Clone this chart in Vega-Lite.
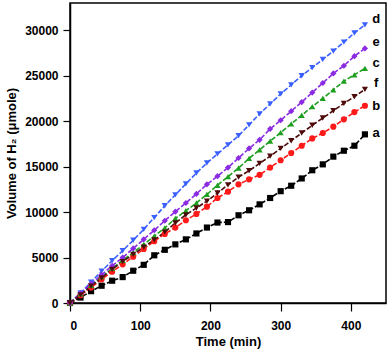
{
  "$schema": "https://vega.github.io/schema/vega-lite/v6.json",
  "autosize": "none",
  "width": 316,
  "height": 300,
  "padding": {"left": 70, "top": 3, "right": 6, "bottom": 52},
  "background": "white",
  "config": {
    "view": {"stroke": "black", "strokeWidth": 1.5},
    "axis": {
      "labelFont": "Liberation Sans", "labelFontWeight": "bold", "labelFontSize": 12, "labelColor": "black",
      "titleFont": "Liberation Sans", "titleFontWeight": "bold", "titleFontSize": 13, "titleColor": "black",
      "domainColor": "black", "domainWidth": 1.5, "tickColor": "black", "tickWidth": 1.2, "grid": false
    }
  },
  "datasets": {
    "series": [
      {"s":"a","t":0,"v":0},{"s":"a","t":15,"v":600},{"s":"a","t":30,"v":1300},{"s":"a","t":45,"v":1900},{"s":"a","t":60,"v":2450},{"s":"a","t":75,"v":2850},{"s":"a","t":90,"v":3550},{"s":"a","t":105,"v":4200},{"s":"a","t":120,"v":5250},{"s":"a","t":135,"v":5850},{"s":"a","t":150,"v":6450},{"s":"a","t":165,"v":7000},{"s":"a","t":180,"v":7650},{"s":"a","t":195,"v":8300},{"s":"a","t":210,"v":8850},{"s":"a","t":225,"v":8900},{"s":"a","t":240,"v":9650},{"s":"a","t":255,"v":10200},{"s":"a","t":270,"v":10850},{"s":"a","t":285,"v":11550},{"s":"a","t":300,"v":12300},{"s":"a","t":315,"v":12900},{"s":"a","t":330,"v":13700},{"s":"a","t":345,"v":14600},{"s":"a","t":360,"v":15250},{"s":"a","t":375,"v":16100},{"s":"a","t":390,"v":16750},{"s":"a","t":405,"v":17300},{"s":"a","t":420,"v":18550},
      {"s":"b","t":0,"v":0},{"s":"b","t":15,"v":850},{"s":"b","t":30,"v":1700},{"s":"b","t":45,"v":2600},{"s":"b","t":60,"v":3450},{"s":"b","t":75,"v":4250},{"s":"b","t":90,"v":5100},{"s":"b","t":105,"v":5950},{"s":"b","t":120,"v":6800},{"s":"b","t":135,"v":7600},{"s":"b","t":150,"v":8300},{"s":"b","t":165,"v":9100},{"s":"b","t":180,"v":9800},{"s":"b","t":195,"v":10600},{"s":"b","t":210,"v":11550},{"s":"b","t":225,"v":12250},{"s":"b","t":240,"v":13050},{"s":"b","t":255,"v":13600},{"s":"b","t":270,"v":14100},{"s":"b","t":285,"v":14900},{"s":"b","t":300,"v":15700},{"s":"b","t":315,"v":16500},{"s":"b","t":330,"v":17300},{"s":"b","t":345,"v":18100},{"s":"b","t":360,"v":18700},{"s":"b","t":375,"v":19400},{"s":"b","t":390,"v":20200},{"s":"b","t":405,"v":21000},{"s":"b","t":420,"v":21700},
      {"s":"c","t":0,"v":0},{"s":"c","t":15,"v":1000},{"s":"c","t":30,"v":1950},{"s":"c","t":45,"v":2900},{"s":"c","t":60,"v":3800},{"s":"c","t":75,"v":4700},{"s":"c","t":90,"v":5550},{"s":"c","t":105,"v":6450},{"s":"c","t":120,"v":7350},{"s":"c","t":135,"v":8250},{"s":"c","t":150,"v":9300},{"s":"c","t":165,"v":10150},{"s":"c","t":180,"v":11000},{"s":"c","t":195,"v":11950},{"s":"c","t":210,"v":12950},{"s":"c","t":225,"v":13900},{"s":"c","t":240,"v":14850},{"s":"c","t":255,"v":15900},{"s":"c","t":270,"v":16850},{"s":"c","t":285,"v":17800},{"s":"c","t":300,"v":18750},{"s":"c","t":315,"v":19700},{"s":"c","t":330,"v":20650},{"s":"c","t":345,"v":21600},{"s":"c","t":360,"v":22500},{"s":"c","t":375,"v":23450},{"s":"c","t":390,"v":24400},{"s":"c","t":405,"v":25100},{"s":"c","t":420,"v":25800},
      {"s":"d","t":0,"v":0},{"s":"d","t":15,"v":1100},{"s":"d","t":30,"v":2300},{"s":"d","t":45,"v":3500},{"s":"d","t":60,"v":4650},{"s":"d","t":75,"v":5750},{"s":"d","t":90,"v":6900},{"s":"d","t":105,"v":8100},{"s":"d","t":120,"v":9400},{"s":"d","t":135,"v":10700},{"s":"d","t":150,"v":11900},{"s":"d","t":165,"v":13100},{"s":"d","t":180,"v":14300},{"s":"d","t":195,"v":15400},{"s":"d","t":210,"v":16400},{"s":"d","t":225,"v":17400},{"s":"d","t":240,"v":18400},{"s":"d","t":255,"v":19600},{"s":"d","t":270,"v":20800},{"s":"d","t":285,"v":21900},{"s":"d","t":300,"v":23000},{"s":"d","t":315,"v":24000},{"s":"d","t":330,"v":25000},{"s":"d","t":345,"v":25900},{"s":"d","t":360,"v":26800},{"s":"d","t":375,"v":27700},{"s":"d","t":390,"v":28700},{"s":"d","t":405,"v":29700},{"s":"d","t":420,"v":30600},
      {"s":"e","t":0,"v":0},{"s":"e","t":15,"v":1100},{"s":"e","t":30,"v":2100},{"s":"e","t":45,"v":3100},{"s":"e","t":60,"v":4100},{"s":"e","t":75,"v":5000},{"s":"e","t":90,"v":6000},{"s":"e","t":105,"v":7000},{"s":"e","t":120,"v":8000},{"s":"e","t":135,"v":9050},{"s":"e","t":150,"v":10050},{"s":"e","t":165,"v":11000},{"s":"e","t":180,"v":12000},{"s":"e","t":195,"v":13050},{"s":"e","t":210,"v":13950},{"s":"e","t":225,"v":14900},{"s":"e","t":240,"v":15950},{"s":"e","t":255,"v":17000},{"s":"e","t":270,"v":17950},{"s":"e","t":285,"v":19150},{"s":"e","t":300,"v":20100},{"s":"e","t":315,"v":21100},{"s":"e","t":330,"v":22100},{"s":"e","t":345,"v":23150},{"s":"e","t":360,"v":24200},{"s":"e","t":375,"v":25250},{"s":"e","t":390,"v":26100},{"s":"e","t":405,"v":27150},{"s":"e","t":420,"v":28000},
      {"s":"f","t":0,"v":0},{"s":"f","t":15,"v":900},{"s":"f","t":30,"v":1850},{"s":"f","t":45,"v":2750},{"s":"f","t":60,"v":3700},{"s":"f","t":75,"v":4550},{"s":"f","t":90,"v":5350},{"s":"f","t":105,"v":6150},{"s":"f","t":120,"v":6950},{"s":"f","t":135,"v":7800},{"s":"f","t":150,"v":8800},{"s":"f","t":165,"v":9700},{"s":"f","t":180,"v":10450},{"s":"f","t":195,"v":11200},{"s":"f","t":210,"v":12100},{"s":"f","t":225,"v":13000},{"s":"f","t":240,"v":13850},{"s":"f","t":255,"v":14550},{"s":"f","t":270,"v":15350},{"s":"f","t":285,"v":16150},{"s":"f","t":300,"v":17000},{"s":"f","t":315,"v":17850},{"s":"f","t":330,"v":18700},{"s":"f","t":345,"v":19550},{"s":"f","t":360,"v":20350},{"s":"f","t":375,"v":21150},{"s":"f","t":390,"v":21950},{"s":"f","t":405,"v":22700},{"s":"f","t":420,"v":23500}
    ],
    "labels": [
      {"s":"d","t":436,"v":31200},{"s":"e","t":436,"v":28700},{"s":"c","t":436,"v":26450},{"s":"f","t":436,"v":24150},{"s":"b","t":436,"v":21700},{"s":"a","t":436,"v":18750}
    ]
  },
  "layer": [
    {
      "data": {"name": "series"},
      "mark": {"type": "line", "strokeWidth": 1.6, "strokeDash": [5, 2]},
      "encoding": {
        "x": {"field": "t", "type": "quantitative", "scale": {"domain": [0, 450], "nice": false},
          "axis": {"title": "Time (min)", "values": [0,50,100,150,200,250,300,350,400,450],
            "labelExpr": "datum.value % 100 === 0 ? datum.label : ''",
            "tickSize": {"condition": {"test": "datum.value % 100 === 0", "value": 8}, "value": 5},
            "labelPadding": 9, "titlePadding": 4}},
        "y": {"field": "v", "type": "quantitative", "scale": {"domain": [0, 33000], "nice": false},
          "axis": {"title": "Volume of H₂ (μmole)", "format": "d",
            "values": [0,2500,5000,7500,10000,12500,15000,17500,20000,22500,25000,27500,30000,32500],
            "labelExpr": "datum.value % 5000 === 0 ? datum.label : ''",
            "tickSize": {"condition": {"test": "datum.value % 5000 === 0", "value": 7}, "value": 4},
            "labelPadding": 5, "titlePadding": 6}},
        "color": {"field": "s", "type": "nominal", "legend": null,
          "scale": {"domain": ["a","b","c","d","e","f"], "range": ["#000000","#ff1a1a","#1e9e1e","#3a5fff","#8a2be2","#4d0a0a"]}},
        "detail": {"field": "s"}
      }
    },
    {
      "data": {"name": "series"},
      "mark": {"type": "point", "filled": true, "opacity": 1, "size": 38},
      "encoding": {
        "x": {"field": "t", "type": "quantitative"},
        "y": {"field": "v", "type": "quantitative"},
        "color": {"field": "s", "type": "nominal", "legend": null},
        "shape": {"field": "s", "type": "nominal", "legend": null,
          "scale": {"domain": ["a","b","c","d","e","f"], "range": ["square","circle","triangle-up","triangle-down","diamond","triangle-down"]}}
      }
    },
    {
      "data": {"name": "labels"},
      "mark": {"type": "text", "font": "Liberation Sans", "fontWeight": "bold", "fontSize": 13, "color": "black", "align": "center", "baseline": "middle"},
      "encoding": {
        "x": {"field": "t", "type": "quantitative"},
        "y": {"field": "v", "type": "quantitative"},
        "text": {"field": "s"}
      }
    }
  ]
}
